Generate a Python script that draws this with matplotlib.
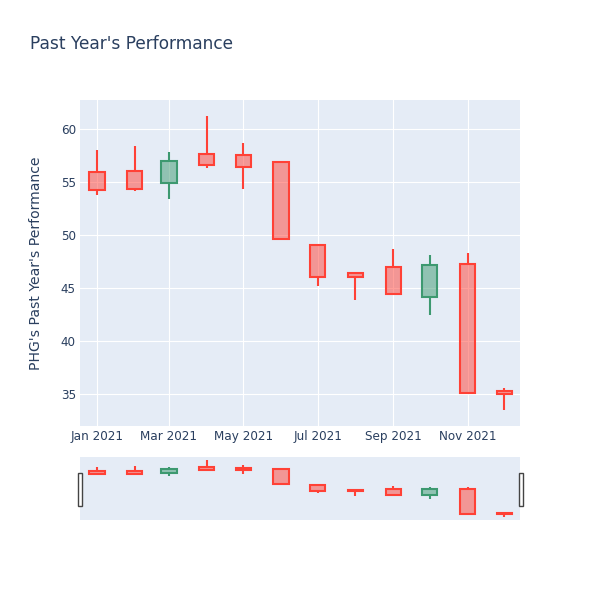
import matplotlib
matplotlib.use("Agg")
import matplotlib.pyplot as plt
import matplotlib.dates as mdates
from matplotlib.patches import Rectangle
import datetime as dt

# ---- data ----
months = ["2021-01-01", "2021-02-01", "2021-03-01", "2021-04-01", "2021-05-01", "2021-06-01",
          "2021-07-01", "2021-08-01", "2021-09-01", "2021-10-01", "2021-11-01", "2021-12-01"]
open_ = [55.97, 56.04, 54.88, 57.70, 57.60, 56.92, 49.03, 46.44, 47.01, 44.12, 47.29, 35.28]
high = [58.00, 58.40, 57.80, 61.23, 58.65, 57.00, 49.15, 46.44, 48.65, 48.14, 48.27, 35.60]
low = [53.77, 54.15, 53.37, 56.35, 54.34, 49.50, 45.22, 43.87, 44.35, 42.42, 35.05, 33.52]
close = [54.25, 54.31, 57.00, 56.58, 56.42, 49.65, 46.01, 46.07, 44.40, 47.20, 35.09, 35.03]
xtick_dates = ["2021-01-01", "2021-03-01", "2021-05-01", "2021-07-01", "2021-09-01", "2021-11-01"]
ytick_vals = [35, 40, 45, 50, 55, 60]

title = "Past Year's Performance"
ylabel = "PHG's Past Year's Performance"

INC = "#3D9970"
DEC = "#FF4136"
BG = "#E5ECF6"
TXT = "#2a3f5f"
FONT = ["DejaVu Sans"]

plt.rcParams["font.family"] = FONT

dates = [dt.datetime.strptime(d, "%Y-%m-%d") for d in months]
xd = mdates.date2num(dates)

fig = plt.figure(figsize=(6, 6), dpi=100)
fig.patch.set_facecolor("white")

ax = fig.add_axes([80/600, 174/600, 440/600, 326/600])
sl = fig.add_axes([80/600, 80/600, 440/600, 63/600])

xmin = mdates.date2num(dt.datetime(2020, 12, 18))
xmax = mdates.date2num(dt.datetime(2021, 12, 14))
ylim = (31.98, 62.75)


def draw_candles(a, lw):
    w = 12.5
    for x, o, h, l, c in zip(xd, open_, high, low, close):
        col = INC if c > o else DEC
        top, bot = max(o, c), min(o, c)
        a.vlines(x, top, h, color=col, lw=lw, zorder=3)
        a.vlines(x, l, bot, color=col, lw=lw, zorder=3)
        a.add_patch(Rectangle((x - w/2, bot), w, max(top - bot, 0.001),
                              facecolor=col, alpha=0.5, edgecolor="none", zorder=3))
        a.add_patch(Rectangle((x - w/2, bot), w, max(top - bot, 0.001),
                              facecolor="none", edgecolor=col, lw=lw, zorder=4))


for a in (ax, sl):
    a.set_facecolor(BG)
    for s in a.spines.values():
        s.set_visible(False)
    a.set_xlim(xmin, xmax)
    a.set_ylim(*ylim)

draw_candles(ax, 1.5)
draw_candles(sl, 1.5)

ax.set_xticks(mdates.date2num([dt.datetime.strptime(d, "%Y-%m-%d") for d in xtick_dates]))
ax.xaxis.set_major_formatter(mdates.DateFormatter("%b %Y"))
ax.set_yticks(ytick_vals)
ax.grid(True, color="white", lw=0.8, zorder=0)
ax.set_axisbelow(True)
ax.tick_params(length=0, colors=TXT, labelsize=8.64, pad=3)
ax.set_ylabel(ylabel, color=TXT, fontsize=10.08, labelpad=13)

sl.set_xticks([])
sl.set_yticks([])

# range slider handles
for hx in (77.5, 518.5):
    fig.patches.append(Rectangle((hx/600, (600-506)/600), 4/600, 33/600,
                                 transform=fig.transFigure, facecolor="white",
                                 edgecolor="#444444", lw=1.0))

fig.text(30/600, 1 - 44/600, title, color=TXT, fontsize=12.24, va="center", ha="left")

fig.savefig("out.png", dpi=100, facecolor="white")
